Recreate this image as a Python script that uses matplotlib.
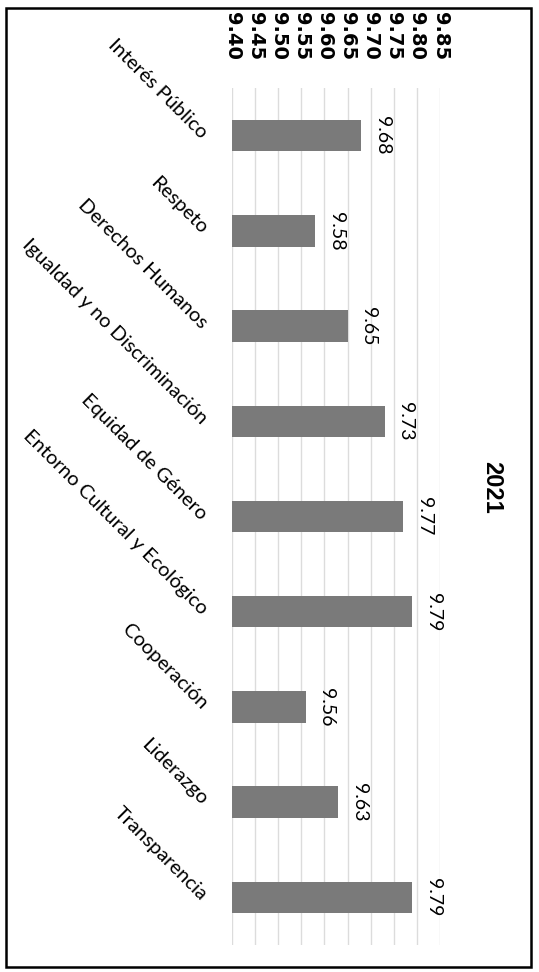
import matplotlib
matplotlib.use("Agg")
import matplotlib.pyplot as plt
from matplotlib.patches import Rectangle

categories = ["Interés Público", "Respeto", "Derechos Humanos",
              "Igualdad y no Discriminación", "Equidad de Género",
              "Entorno Cultural y Ecológico", "Cooperación", "Liderazgo",
              "Transparencia"]
values = [9.68, 9.58, 9.65, 9.73, 9.77, 9.79, 9.56, 9.63, 9.79]
tick_values = [9.40, 9.45, 9.50, 9.55, 9.60, 9.65, 9.70, 9.75, 9.80, 9.85]
tick_labels = ["9.40", "9.45", "9.50", "9.55", "9.60", "9.65", "9.70", "9.75", "9.80", "9.85"]
title = "2021"

W, H = 539, 972
fig = plt.figure(figsize=(W / 100, H / 100), dpi=100)
ax = fig.add_axes([232 / W, 1 - 945 / H, (440 - 232) / W, (945 - 88) / H])

ypos = list(range(len(categories)))
ax.barh(ypos, values, height=0.33, color="#7a7a7a", zorder=3)
ax.set_xlim(9.40, 9.85)
ax.set_ylim(len(categories) - 0.5, -0.5)

ax.set_xticks(tick_values)
ax.xaxis.tick_top()
ax.set_xticklabels(tick_labels, rotation=-90, fontweight="bold",
                   family=["Liberation Sans Narrow", "DejaVu Sans"], fontsize=14)
ax.tick_params(axis="x", length=0, pad=20)

ax.set_yticks(ypos)
ax.set_yticklabels(categories, rotation=-45, ha="right", va="center",
                   rotation_mode="anchor", family=["Lato", "DejaVu Sans"], fontsize=14.5)
ax.tick_params(axis="y", length=0, pad=20)

ax.grid(axis="x", color="#dcdcdc", linewidth=1, zorder=0)
for s in ax.spines.values():
    s.set_visible(False)

for y, v in zip(ypos, values):
    ax.annotate(f"{v:.2f}", xy=(v, y), xytext=(9, 0), textcoords="offset points",
                rotation=-90, ha="left", va="center", fontsize=14,
                family=["Lato", "DejaVu Sans"])

fig.text(492 / W, 1 - 487 / H, title, rotation=-90, ha="center", va="center",
         fontsize=17, fontweight="bold", family=["Liberation Sans", "DejaVu Sans"])

fig.add_artist(Rectangle((6 / W, 1 - 967 / H), (531 - 6) / W, (967 - 8) / H,
                         transform=fig.transFigure, fill=False,
                         edgecolor="black", linewidth=1.8))

fig.savefig("out.png", dpi=100)
